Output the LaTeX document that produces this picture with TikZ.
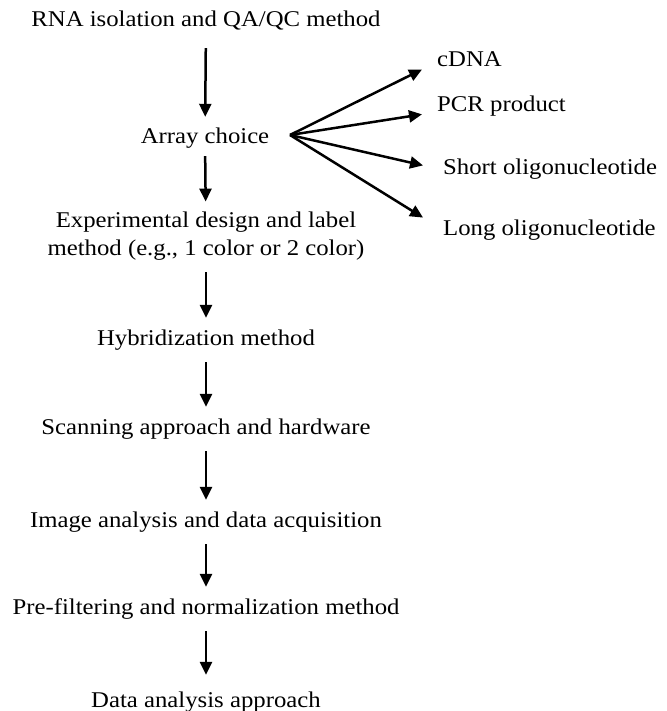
\documentclass[tikz,border=0pt]{standalone}
\usepackage{fontspec}
\setmainfont[FakeStretch=1.1]{Liberation Serif}
\usetikzlibrary{arrows.meta,positioning}
\tikzset{
  % Text of a flow stage (one or two lines)
  flow/.style={
    inner sep=0pt, align=center,
    font=\fontsize{22.5}{28}\selectfont
  },
  % One-line stage with fixed height
  stage/.style={flow, text height=15pt, text depth=5pt},
  % Array type on the right
  kind/.style={stage, anchor=west},
  % Downward arrow
  arr/.style={
    -{Triangle[length=13pt,width=12pt]},
    line width=2.5pt, shorten <=12pt, shorten >=12pt
  },
  % Fan arrow to an array type
  fan/.style={
    -{Triangle[length=13pt,width=12pt]},
    line width=2.5pt, shorten >=#1
  },
  fan/.default=15pt
}

\begin{document}
\begin{tikzpicture}[x=1pt, y=-1pt]
  \useasboundingbox (0,0) rectangle (666,711);

  % ---- MAIN COLUMN ----
  \node[stage] (rna)    at (206,22)  {RNA isolation and QA/QC method};
  \node[stage] (array)  at (205,139) {Array choice};
  \node[flow]  (design) at (206,236) {Experimental design and label\\method (e.g., 1 color or 2 color)};
  \node[stage] (hyb)    at (206,340) {Hybridization method};
  \node[stage] (scan)   at (206,429) {Scanning approach and hardware};
  \node[stage] (image)  at (206,522) {Image analysis and data acquisition};
  \node[stage] (prefil) at (206,609) {Pre-filtering and normalization method};
  \node[stage] (data)   at (206,702) {Data analysis approach};

  % ---- ARRAY TYPES ----
  \coordinate (hub) at (290,135);
  \node[kind] (cdna)  at (437,62)  {cDNA};
  \node[kind] (pcr)   at (437,107) {PCR product};
  \node[kind] (short) at (443,170) {Short oligonucleotide};
  \node[kind] (long)  at (443,230) {Long oligonucleotide};

  % ---- ARROWS ----
  \draw[arr, shorten <=16pt] (rna) -- (array);
  \draw[arr, shorten <=7pt, shorten >=10pt] (array) -- (design);
  \draw[arr] (design) -- (hyb);
  \draw[arr] (hyb)    -- (scan);
  \draw[arr] (scan)   -- (image);
  \draw[arr] (image)  -- (prefil);
  \draw[arr, shorten >=17pt] (prefil) -- (data);

  \draw[fan=16.7pt] (hub) -- (cdna.west);
  \draw[fan=15.2pt] (hub) -- (pcr.base west);
  \draw[fan=20.5pt] (hub) -- (short.west);
  \draw[fan=23.5pt] (hub) -- (long.west);

\end{tikzpicture}
\end{document}
